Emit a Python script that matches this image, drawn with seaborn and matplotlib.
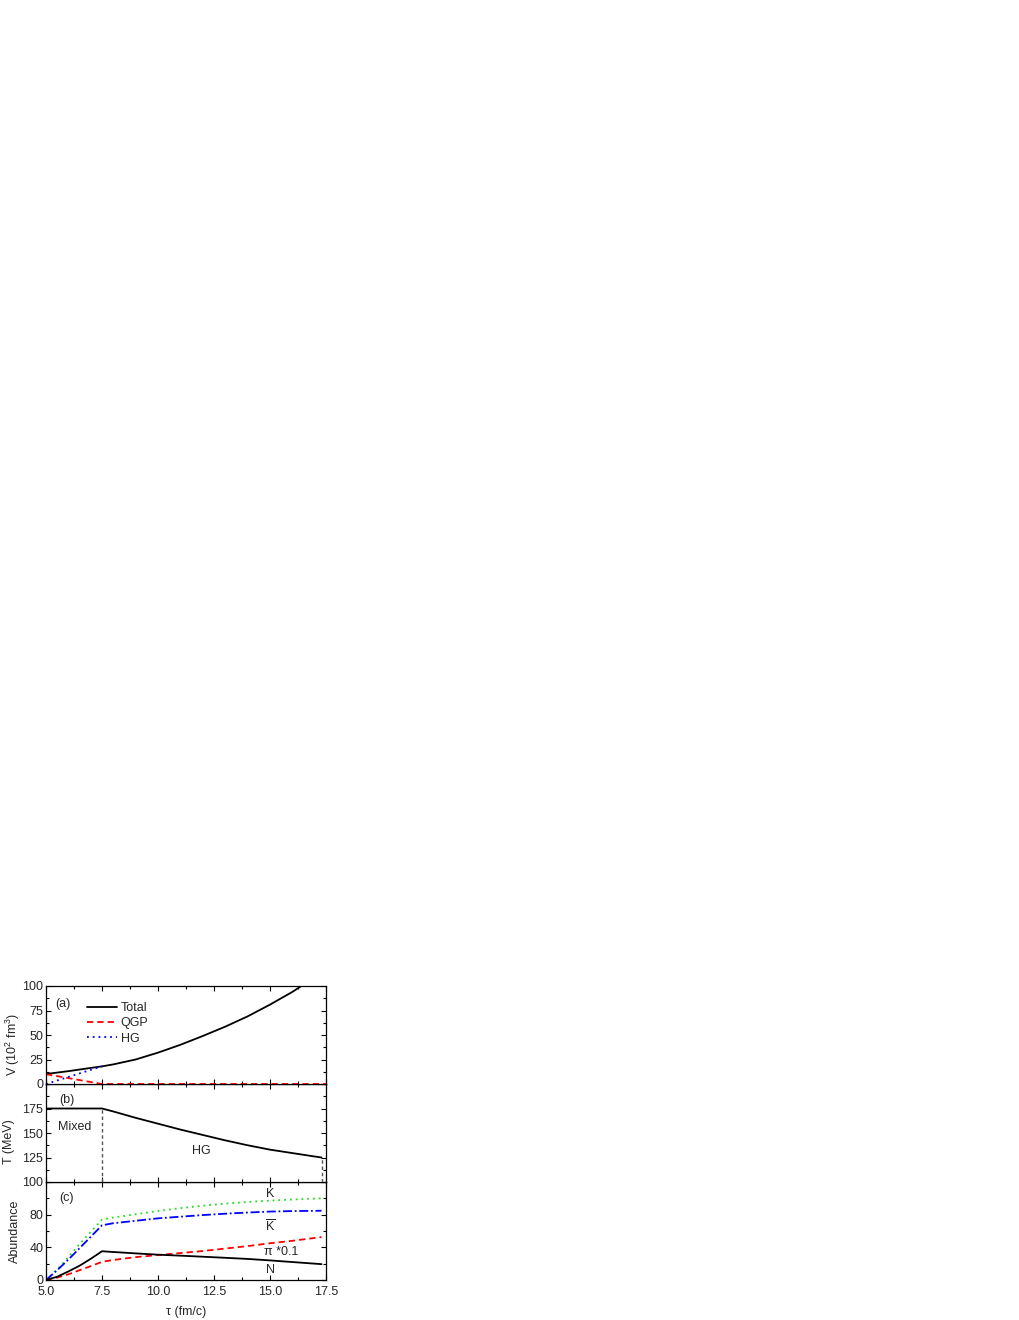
import matplotlib
matplotlib.use("Agg")
import matplotlib.pyplot as plt
import seaborn as sns
from matplotlib.ticker import MultipleLocator

# ---------------- data ----------------
tau_total = [5, 6, 7, 7.5, 8, 9, 10, 11, 12, 13, 14, 15, 16, 16.5, 17, 17.5]
V_total = [10.2, 13.1, 16.4, 18, 20, 25, 32, 40, 49, 58.5, 69, 81, 94, 101.5, 109, 117]
tau_qgp = [5, 7.5, 17.5]
V_qgp = [10, 0, 0]
tau_hg = [5, 7.5]
V_hg = [0, 18]

tau_T = [5, 7.5, 8, 9, 10, 11, 12, 13, 14, 15, 16, 17, 17.3]
T_vals = [175, 175, 172, 165.5, 159.5, 153.5, 148, 142.5, 137.5, 133, 129.5, 126, 125]
tau_mixed_end = 7.5
T_mixed = 175
tau_freeze = 17.3
T_freeze = 125

tau_c = [5, 5.5, 6, 6.5, 7, 7.5, 8, 9, 10, 11, 12, 13, 14, 15, 16, 17.3]
K_vals = [0, 13, 28, 44, 59, 74, 76.5, 80.5, 84.5, 88, 91, 93.5, 95.5, 97.2, 98.6, 100]
Kbar_vals = [0, 12, 25, 39, 53, 67, 69.5, 72.5, 75.5, 77.5, 79.5, 81.2, 82.6, 83.8, 84.4, 84.8]
pi_vals = [0, 3, 7, 12, 17, 22.3, 24.5, 28, 30.5, 33, 35.5, 38.5, 41.5, 45, 48, 52.6]
N_vals = [0, 4, 10.5, 17.5, 26, 35.2, 34.3, 32.6, 31, 29.8, 28.5, 27.2, 25.8, 24, 22, 19.4]

legend_labels = ["Total", "QGP", "HG"]

# ---------------- style ----------------
sns.set_theme(style="ticks")
plt.rcParams["font.family"] = ["Liberation Sans", "DejaVu Sans"]
plt.rcParams["mathtext.fontset"] = "custom"
plt.rcParams["mathtext.rm"] = "Liberation Sans"
plt.rcParams["mathtext.it"] = "Liberation Sans:italic"
FS = 9

fig = plt.figure(figsize=(10.2, 13.2), dpi=100)
left, width = 46 / 1020, 280 / 1020
H = 98 / 1320
bottom_c = 1 - 1280 / 1320
ax_c = fig.add_axes([left, bottom_c, width, H])
ax_b = fig.add_axes([left, bottom_c + H, width, H], sharex=ax_c)
ax_a = fig.add_axes([left, bottom_c + 2 * H, width, H], sharex=ax_c)

LW = 1.3
RED = "#ff0000"
BLUE = "#0000ff"
GREEN = "#22dd22"

# panel (a)
sns.lineplot(x=tau_total, y=V_total, ax=ax_a, color="black", lw=LW, label=legend_labels[0])
sns.lineplot(x=tau_qgp, y=V_qgp, ax=ax_a, color=RED, lw=LW, linestyle=(0, (3.5, 2.2)), label=legend_labels[1])
sns.lineplot(x=tau_hg, y=V_hg, ax=ax_a, color=BLUE, lw=LW, linestyle=(0, (1, 2.2)), label=legend_labels[2])
ax_a.set_ylim(0, 100)
ax_a.yaxis.set_major_locator(MultipleLocator(25))
ax_a.yaxis.set_minor_locator(MultipleLocator(12.5))
ax_a.set_ylabel(r"V (10$^2$ fm$^3$)", fontsize=FS)
ax_a.yaxis.set_label_coords(-0.085, 0.40)
ax_a.text(5.4, 82, "(a)", fontsize=FS, va="center", ha="left")
leg = ax_a.legend(loc="upper left", bbox_to_anchor=(0.12, 0.91), frameon=False, fontsize=FS,
                  handlelength=2.4, handletextpad=0.3, labelspacing=0.25, borderpad=0.1)

# panel (b)
sns.lineplot(x=tau_T, y=T_vals, ax=ax_b, color="black", lw=LW)
ax_b.plot([tau_mixed_end, tau_mixed_end], [100, T_mixed], color="#555555", lw=1.0, linestyle=(0, (2.5, 2)))
ax_b.plot([tau_freeze, tau_freeze], [100, T_freeze], color="#555555", lw=1.0, linestyle=(0, (2.5, 2)))
ax_b.set_ylim(100, 200)
ax_b.yaxis.set_minor_locator(MultipleLocator(12.5))
ax_b.set_yticks([100, 125, 150, 175])
ax_b.set_ylabel("T (MeV)", fontsize=FS)
ax_b.yaxis.set_label_coords(-0.11, 0.41)
ax_b.text(5.6, 184, "(b)", fontsize=FS, va="center", ha="left")
ax_b.text(6.3, 156.5, "Mixed", fontsize=FS, va="center", ha="center")
ax_b.text(11.95, 132, "HG", fontsize=FS, va="center", ha="center")

# panel (c)
sns.lineplot(x=tau_c, y=K_vals, ax=ax_c, color=GREEN, lw=LW, linestyle=(0, (1, 2.2)))
sns.lineplot(x=tau_c, y=Kbar_vals, ax=ax_c, color=BLUE, lw=LW, linestyle=(0, (5, 1.5, 1, 1.5)))
sns.lineplot(x=tau_c, y=pi_vals, ax=ax_c, color=RED, lw=LW, linestyle=(0, (3.5, 2.2)))
sns.lineplot(x=tau_c, y=N_vals, ax=ax_c, color="black", lw=LW)
ax_c.set_ylim(0, 120)
ax_c.set_yticks([0, 40, 80])
ax_c.yaxis.set_minor_locator(MultipleLocator(20))
ax_c.set_ylabel("Abundance", fontsize=FS)
ax_c.yaxis.set_label_coords(-0.09, 0.5)
ax_c.text(5.6, 101, "(c)", fontsize=FS, va="center", ha="left")
ax_c.text(15.0, 105, "K", fontsize=FS, va="center", ha="center")
ax_c.text(15.0, 66, r"$\overline{\mathrm{K}}$", fontsize=FS, va="center", ha="center")
ax_c.text(15.5, 34, "π *0.1", fontsize=FS, va="center", ha="center")
ax_c.text(15.0, 12, "N", fontsize=FS, va="center", ha="center")
ax_c.set_xlabel("τ (fm/c)", fontsize=FS, labelpad=6)

ax_c.set_xlim(5, 17.5)
ax_c.xaxis.set_major_locator(MultipleLocator(2.5))
ax_c.xaxis.set_minor_locator(MultipleLocator(1.25))
ax_c.xaxis.set_major_formatter(matplotlib.ticker.FormatStrFormatter("%.1f"))

for ax in (ax_a, ax_b, ax_c):
    for s in ax.spines.values():
        s.set_visible(True)
        s.set_linewidth(0.9)
        s.set_color("black")
    ax.tick_params(which="both", direction="in", top=True, right=True, labelsize=FS,
                   width=0.8, color="black", pad=2)
    ax.tick_params(which="major", length=3.5)
    ax.tick_params(which="minor", length=2)
    ax.tick_params(axis="x", pad=4)
for ax in (ax_a, ax_b):
    ax.tick_params(labelbottom=False)
    ax.set_xlabel("")

fig.savefig("out.png", dpi=100)
